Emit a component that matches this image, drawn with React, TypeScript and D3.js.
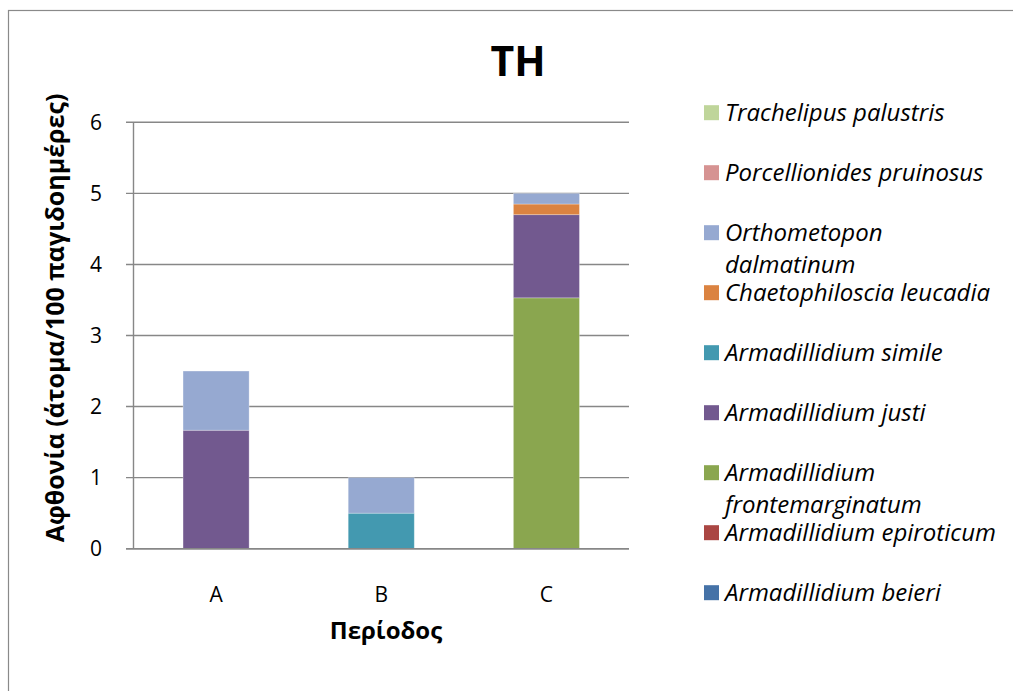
import React from "react";
import * as d3 from "d3";

// Sampling periods
const periods = ["A", "B", "C"];

// Species, in stacking order (bottom first)
const species = [
  "Armadillidium beieri",
  "Armadillidium epiroticum",
  "Armadillidium frontemarginatum",
  "Armadillidium justi",
  "Armadillidium simile",
  "Chaetophiloscia leucadia",
  "Orthometopon dalmatinum",
  "Porcellionides pruinosus",
  "Trachelipus palustris",
];

// Abundance (individuals / 100 trap-days) per period A, B, C
const beieri = [0, 0, 0];
const epiroticum = [0, 0, 0];
const frontemarginatum = [0, 0, 3.53];
const justi = [1.667, 0, 1.17];
const simile = [0, 0.5, 0];
const leucadia = [0, 0, 0.15];
const dalmatinum = [0.833, 0.5, 0.15];
const pruinosus = [0, 0, 0];
const palustris = [0, 0, 0];

const seriesValues = [
  beieri,
  epiroticum,
  frontemarginatum,
  justi,
  simile,
  leucadia,
  dalmatinum,
  pruinosus,
  palustris,
];

const colors = [
  "#4572A7",
  "#AA4643",
  "#8AA64F",
  "#72598F",
  "#4399B0",
  "#DB8341",
  "#96A9D1",
  "#D69392",
  "#BFD59A",
];

// Legend labels, possibly wrapped over two lines
const legendLines: string[][] = [
  ["Armadillidium beieri"],
  ["Armadillidium epiroticum"],
  ["Armadillidium", "frontemarginatum"],
  ["Armadillidium justi"],
  ["Armadillidium simile"],
  ["Chaetophiloscia leucadia"],
  ["Orthometopon", "dalmatinum"],
  ["Porcellionides pruinosus"],
  ["Trachelipus palustris"],
];

const yTicks = [0, 1, 2, 3, 4, 5, 6];

const FONT = "'Open Sans', 'Noto Sans', sans-serif";

export default function App() {
  const width = 1013;
  const height = 691;
  const plot = { left: 133.5, right: 629, top: 122.3, bottom: 548.7 };

  const x = d3
    .scaleBand<string>()
    .domain(periods)
    .range([plot.left, plot.right])
    .paddingInner(0.6)
    .paddingOuter(0.3);

  const y = d3.scaleLinear().domain([0, 6]).range([plot.bottom, plot.top]);

  const rows = periods.map((p, i) => {
    const r: Record<string, number | string> = { period: p };
    species.forEach((s, k) => (r[s] = seriesValues[k][i]));
    return r;
  });
  const stacked = d3.stack<Record<string, number | string>>().keys(species)(rows as any);

  const legendX = 704;
  const legendTop = 112.7;
  const legendStep = 60;

  return (
    <svg
      width={width}
      height={height}
      style={{ position: "absolute", left: 0, top: 0, background: "#fff" }}
      fontFamily={FONT}
    >
      {/* chart frame */}
      <rect x={8.5} y={10.5} width={1100} height={800} fill="#fff" stroke="#8a8a8a" strokeWidth={1.2} />

      <text x={518} y={62} dy="0.35em" textAnchor="middle" fontSize={41} fontWeight="bold" fill="#000">
        TH
      </text>

      {/* gridlines and ticks */}
      {yTicks.map((t) => (
        <g key={t}>
          <line x1={plot.left - 7.5} x2={plot.right} y1={y(t)} y2={y(t)} stroke="#878787" strokeWidth={1.4} />
          <text x={102} y={y(t)} dy="0.35em" textAnchor="end" fontSize={21} fill="#000">
            {t}
          </text>
        </g>
      ))}
      <line x1={plot.left} x2={plot.left} y1={plot.top} y2={plot.bottom} stroke="#878787" strokeWidth={1.4} />

      {/* stacked bars */}
      {stacked.map((layer, k) =>
        layer.map((d, i) => {
          const h = y(d[0]) - y(d[1]);
          if (h <= 0) return null;
          return (
            <rect
              key={`${k}-${i}`}
              x={x(periods[i])}
              y={y(d[1])}
              width={x.bandwidth()}
              height={h}
              fill={colors[k]}
              stroke="rgba(255,255,255,0.35)"
              strokeWidth={0.8}
            />
          );
        })
      )}
      <line x1={plot.left - 7.5} x2={plot.right} y1={plot.bottom} y2={plot.bottom} stroke="#878787" strokeWidth={1.4} />

      {/* category labels */}
      {periods.map((p) => (
        <text
          key={p}
          x={(x(p) as number) + x.bandwidth() / 2}
          y={595}
          dy="0.35em"
          textAnchor="middle"
          fontSize={21}
          fill="#000"
        >
          {p}
        </text>
      ))}

      <text x={386} y={631} dy="0.35em" textAnchor="middle" fontSize={24} fontWeight="bold" fill="#000">
        Περίοδος
      </text>
      <text
        transform={`translate(55,318) rotate(-90)`}
        dy="0.35em"
        textAnchor="middle"
        fontSize={25}
        fontWeight="bold"
        fill="#000"
      >
        Αφθονία (άτομα/100 παγιδοημέρες)
      </text>

      {/* legend, topmost series first */}
      {species
        .map((s, k) => ({ s, k }))
        .reverse()
        .map(({ k }, idx) => {
          const cy = legendTop + idx * legendStep;
          return (
            <g key={k}>
              <rect x={legendX} y={cy - 7.5} width={15} height={15} fill={colors[k]} />
              {legendLines[k].map((line, j) => (
                <text
                  key={j}
                  x={725}
                  y={cy + j * 31.5}
                  dy="0.35em"
                  fontSize={24}
                  fontStyle="italic"
                  fill="#000"
                >
                  {line}
                </text>
              ))}
            </g>
          );
        })}
    </svg>
  );
}
